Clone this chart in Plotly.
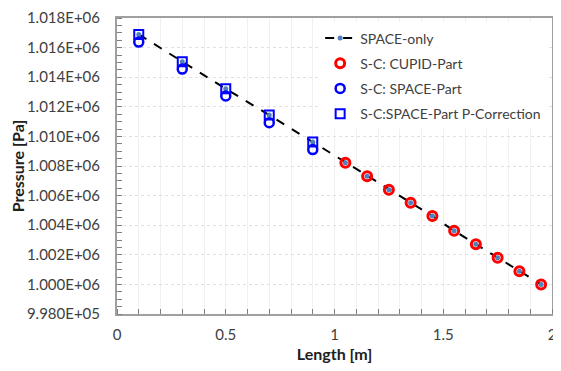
import plotly.graph_objects as go

# Data
space_only_x = [0.1, 0.3, 0.5, 0.7, 0.9, 1.05, 1.15, 1.25, 1.35, 1.45, 1.55, 1.65, 1.75, 1.85, 1.95]
space_only_p = [1016890, 1015040, 1013220, 1011440, 1009620, 1008220, 1007310, 1006400, 1005510,
                1004620, 1003620, 1002710, 1001800, 1000890, 1000000]

cupid_x = [1.05, 1.15, 1.25, 1.35, 1.45, 1.55, 1.65, 1.75, 1.85, 1.95]
cupid_p = [1008220, 1007310, 1006400, 1005510, 1004620, 1003620, 1002710, 1001800, 1000890, 1000000]

space_part_x = [0.1, 0.3, 0.5, 0.7, 0.9]
space_part_p = [1016370, 1014550, 1012730, 1010930, 1009110]

pcorr_x = [0.1, 0.3, 0.5, 0.7, 0.9]
pcorr_p = [1016890, 1015040, 1013220, 1011440, 1009620]

y_tickvals = [998000, 1000000, 1002000, 1004000, 1006000, 1008000, 1010000, 1012000, 1014000, 1016000, 1018000]
y_ticktext = ["9.980E+05", "1.000E+06", "1.002E+06", "1.004E+06", "1.006E+06", "1.008E+06",
              "1.010E+06", "1.012E+06", "1.014E+06", "1.016E+06", "1.018E+06"]
x_tickvals = [0, 0.5, 1, 1.5, 2]
x_ticktext = ["0", "0.5", "1", "1.5", "2"]

font_family = "Lato, Open Sans, sans-serif"

fig = go.Figure()
fig.add_trace(go.Scatter(
    x=space_only_x, y=space_only_p, name="SPACE-only", mode="lines+markers", legendgroup="a",
    line=dict(color="black", width=2, dash="dash"),
    marker=dict(symbol="circle", size=5, color="#4f81bd")))
fig.add_trace(go.Scatter(
    x=cupid_x, y=cupid_p, name="S-C: CUPID-Part", mode="markers", legendgroup="b",
    marker=dict(symbol="circle-open", size=9, color="#ff0000", line=dict(width=3))))
fig.add_trace(go.Scatter(
    x=space_part_x, y=space_part_p, name="S-C: SPACE-Part", mode="markers", legendgroup="c",
    marker=dict(symbol="circle-open", size=9, color="#0000ff", line=dict(width=2.5))))
fig.add_trace(go.Scatter(
    x=pcorr_x, y=pcorr_p, name="S-C:SPACE-Part P-Correction", mode="markers", legendgroup="d",
    marker=dict(symbol="square-open", size=9, color="#0000ff", line=dict(width=2))))

fig.update_layout(
    width=553, height=355,
    margin=dict(l=109, r=9, t=10, b=49),
    paper_bgcolor="white", plot_bgcolor="white",
    font=dict(family=font_family, size=13, color="#404040"),
    showlegend=True,
    legend=dict(x=0.467, y=0.985, xanchor="left", yanchor="top",
                bgcolor="rgba(255,255,255,0.9)", font=dict(size=14, color="#404040"),
                tracegroupgap=4, itemwidth=30),
    xaxis=dict(
        range=[0, 2], tickvals=x_tickvals, ticktext=x_ticktext,
        showgrid=False, zeroline=False, automargin=False, ticklabeloverflow="allow",
        showline=True, linecolor="#a0a0a0", linewidth=2, mirror=True,
        ticks="", tickfont=dict(size=15, color="#404040"), ticklabelstandoff=6,
        minor=dict(dtick=0.1, tick0=0, ticks="inside", ticklen=5, tickcolor="#808080",
                   showgrid=True, gridcolor="#f0f0f0", gridwidth=1),
        title=dict(text="<b>Length [m]</b>", font=dict(size=16, color="#202020"), standoff=10),
    ),
    yaxis=dict(
        range=[998000, 1018000], tickvals=y_tickvals, ticktext=y_ticktext,
        showgrid=True, gridcolor="#e0e0e0", griddash="dot", gridwidth=1,
        zeroline=False, automargin=False, ticklabeloverflow="allow",
        showline=True, linecolor="#a0a0a0", linewidth=2, mirror=True,
        ticks="", tickfont=dict(size=15, color="#404040"), ticklabelstandoff=12,
        minor=dict(dtick=500, tick0=998000, ticks="inside", ticklen=5, tickcolor="#808080",
                   showgrid=False),
        title=dict(text="<b>Pressure [Pa]</b>", font=dict(size=16, color="#202020"), standoff=8),
    ),
)

fig.write_html("out.html")
